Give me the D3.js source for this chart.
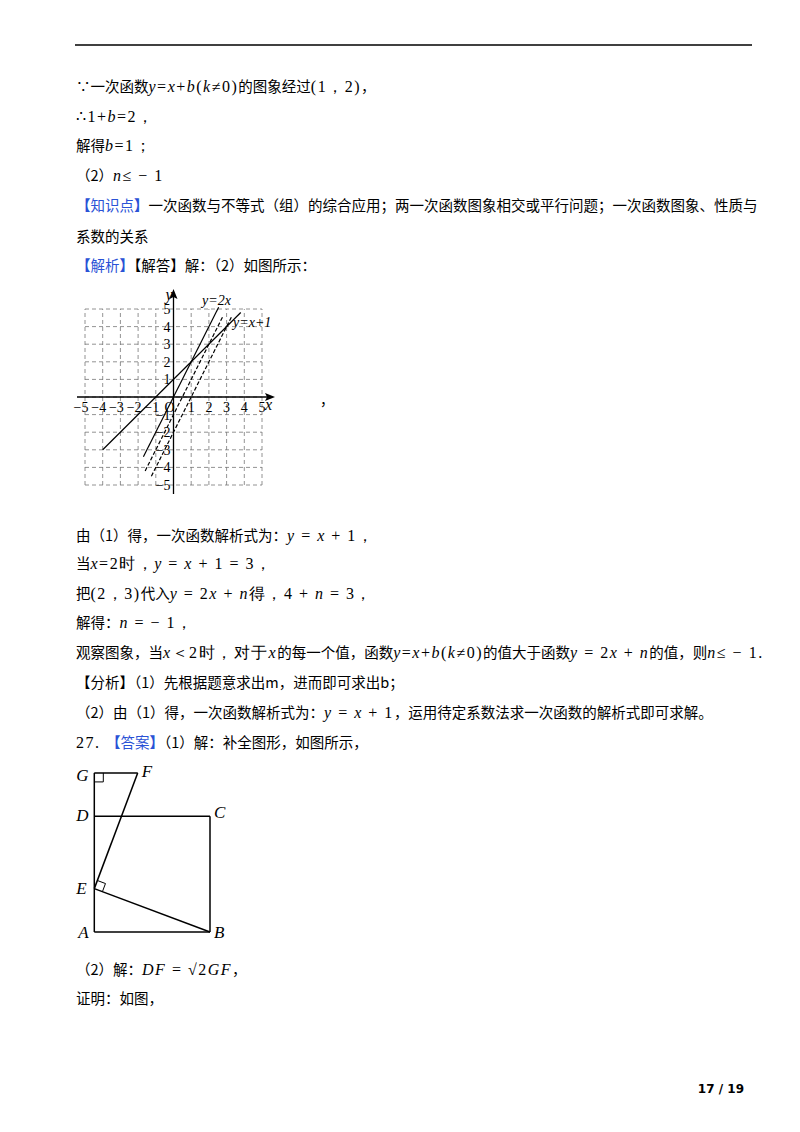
<!DOCTYPE html>
<html><head><meta charset="utf-8">
<script src="https://cdn.jsdelivr.net/npm/d3@7"></script>
<style>body{margin:0;background:#fff}</style>
</head><body>
<svg id="svg" width="800" height="1132"></svg>
<script>
var svg = d3.select("#svg");
var CN = "'Noto Sans CJK SC', sans-serif", SER = "'Liberation Serif', serif";

// page text: each line is list of [text, style] ; style: n normal, i italic math, m math upright, b blue, bb bold blue bracket
var lines = [
  {y:92, s:[["∵一次函数","n"],["y","i"],["=","m"],["x","i"],["+","m"],["b","i"],["(","m"],["k","i"],["≠0","m"],[")","m"],["的图象经过","n"],["(1，2)","m"],["，","n"]]},
  {y:122, s:[["∴1+","m"],["b","i"],["=2，","m"]]},
  {y:151, s:[["解得","n"],["b","i"],["=1；","m"]]},
  {y:181, s:[["（2）","n"],["n","i"],["≤ − 1","m"]]},
  {y:211, s:[["【","bb"],["知识点","b"],["】","bb"],["一次函数与不等式（组）的综合应用；两一次函数图象相交或平行问题；一次函数图象、性质与","n"]]},
  {y:242, s:[["系数的关系","n"]]},
  {y:271, s:[["【","bb"],["解析","b"],["】","bb"],["【解答】解：（2）如图所示：","n"]]},
  {y:541, s:[["由（1）得，一次函数解析式为：","n"],["y","i"],[" = ","m"],["x","i"],[" + 1，","m"]]},
  {y:569, s:[["当","n"],["x","i"],["=2时，","m"],["y","i"],[" = ","m"],["x","i"],[" + 1 = 3，","m"]]},
  {y:599, s:[["把","n"],["(2，3)","m"],["代入","n"],["y","i"],[" = 2","m"],["x","i"],[" + ","m"],["n","i"],["得，4 + ","m"],["n","i"],[" = 3，","m"]]},
  {y:628, s:[["解得：","n"],["n","i"],[" = − 1，","m"]]},
  {y:658, s:[["观察图象，当","n"],["x","i"],["＜2时，对于","m"],["x","i"],["的每一个值，函数","n"],["y","i"],["=","m"],["x","i"],["+","m"],["b","i"],["(","m"],["k","i"],["≠0)","m"],["的值大于函数","n"],["y","i"],[" = 2","m"],["x","i"],[" + ","m"],["n","i"],["的值，则","n"],["n","i"],["≤ − 1.","m"]]},
  {y:688, s:[["【分析】（1）先根据题意求出m，进而即可求出b；","n"]]},
  {y:718, s:[["（2）由（1）得，一次函数解析式为：","n"],["y","i"],[" = ","m"],["x","i"],[" + 1","m"],["，运用待定系数法求一次函数的解析式即可求解。","n"]]},
  {y:748, s:[["27. ","m"],["【","bb"],["答案","b"],["】","bb"],["（1）解：补全图形，如图所示，","n"]]},
  {y:975, s:[["（2）解：","n"],["DF","i"],[" = √2","m"],["GF","i"],["，","n"]]},
  {y:1004, s:[["证明：如图，","n"]]}
];

svg.append("line").attr("x1",75).attr("x2",752).attr("y1",45).attr("y2",45).attr("stroke","#000").attr("stroke-width",1.3);

lines.forEach(function(l){
  var t = svg.append("text").attr("x",76).attr("y",l.y).attr("font-size","14.5px").attr("fill","#000");
  l.s.forEach(function(seg){
    var ts = t.append("tspan").text(seg[0]);
    if (seg[1]=="n") ts.attr("font-family",CN);
    if (seg[1]=="i") ts.attr("font-family",SER).attr("font-style","italic").attr("font-size","16px").attr("letter-spacing","1.5px");
    if (seg[1]=="m") ts.attr("font-family",SER).attr("font-size","16px").attr("letter-spacing","1.5px");
    if (seg[1]=="b") ts.attr("font-family",CN).attr("fill","#2a52d6");
    if (seg[1]=="bb") ts.attr("font-family",CN).attr("fill","#2a52d6").attr("font-weight","bold");
  });
});
svg.append("text").attr("x",320).attr("y",405).attr("font-family",CN).attr("font-size","14px").text("，");
svg.append("text").attr("x",744).attr("y",1093).attr("text-anchor","end").attr("font-family","'DejaVu Sans'").attr("font-weight","bold").attr("font-size","12px").text("17 / 19");

// ---- coordinate graph ----
var ticks = [-5,-4,-3,-2,-1,1,2,3,4,5];
var solidLines = [
  {label:"y=x+1", k:1, b:1, x0:-4, x1:3.8},
  {label:"y=2x", k:2, b:0, x0:-1.7, x1:2.55}
];
var dashLines = [
  {k:2, b:-1, x0:-1.6, x1:2.8},
  {k:2, b:-2, x0:-1.25, x1:3.3}
];
var x = d3.scaleLinear().domain([-5,5]).range([85,262]);
var y = d3.scaleLinear().domain([-5,5]).range([485,309]);
var g = svg.append("g").attr("font-family",SER).attr("font-size","14px");
var grid = d3.range(-5,6);
g.selectAll("line.gv").data(grid).enter().append("line")
  .attr("x1",function(d){return x(d);}).attr("x2",function(d){return x(d);})
  .attr("y1",y(-5)).attr("y2",y(5)).attr("stroke","#777").attr("stroke-dasharray","4,3").attr("stroke-width",0.8);
g.selectAll("line.gh").data(grid).enter().append("line")
  .attr("y1",function(d){return y(d);}).attr("y2",function(d){return y(d);})
  .attr("x1",x(-5)).attr("x2",x(5)).attr("stroke","#777").attr("stroke-dasharray","4,3").attr("stroke-width",0.8);
// axes
g.append("line").attr("x1",77).attr("x2",270).attr("y1",y(0)).attr("y2",y(0)).attr("stroke","#000").attr("stroke-width",1.3);
g.append("line").attr("x1",x(0)).attr("x2",x(0)).attr("y1",494).attr("y2",294).attr("stroke","#000").attr("stroke-width",1.3);
g.append("path").attr("d","M"+275+","+y(0)+"l-10,-4l2,4l-2,4z");
g.append("path").attr("d","M"+x(0)+",289l-4,10l4,-2l4,2z");
g.append("text").attr("x",265).attr("y",y(0)+13).attr("font-style","italic").attr("font-size","16px").text("x");
g.append("text").attr("x",x(0)-8).attr("y",300).attr("font-style","italic").attr("font-size","16px").text("y");
g.selectAll("text.xt").data(ticks).enter().append("text")
  .attr("x",function(d){return x(d)-(d<0?4:0);}).attr("y",y(0)+15).attr("text-anchor","middle")
  .text(function(d){return d<0?"−"+(-d):d;});
g.append("text").attr("x",x(0)-9).attr("y",y(0)+15).text("O");
g.selectAll("text.yt").data(ticks).enter().append("text")
  .attr("x",x(0)-3).attr("y",function(d){return y(d)+5;}).attr("text-anchor","end")
  .text(function(d){return d<0?"−"+(-d):d;});
var line = d3.line().x(function(p){return x(p[0]);}).y(function(p){return y(p[1]);});
g.selectAll("path.sl").data(solidLines).enter().append("path")
  .attr("d",function(d){return line([[d.x0,d.k*d.x0+d.b],[d.x1,d.k*d.x1+d.b]]);})
  .attr("stroke","#000").attr("stroke-width",1.2).attr("fill","none");
g.selectAll("path.dl").data(dashLines).enter().append("path")
  .attr("d",function(d){return line([[d.x0,d.k*d.x0+d.b],[d.x1,d.k*d.x1+d.b]]);})
  .attr("stroke","#000").attr("stroke-width",1.2).attr("stroke-dasharray","4,2").attr("fill","none");
g.append("text").attr("x",202).attr("y",305).attr("font-style","italic").text("y=2x");
g.append("text").attr("x",233).attr("y",327).attr("font-style","italic").text("y=x+1");

// ---- geometry figure ----
var pts = {A:[0,0],B:[4,0],C:[4,4],D:[0,4],E:[0,1.5],F:[1.5,5.5],G:[0,5.5]};
var segs = [["A","B"],["B","C"],["C","D"],["A","G"],["G","F"],["F","E"],["E","B"]];
var labOff = {A:[-16,6],B:[4,6],C:[4,2],D:[-18,5],E:[-18,5],F:[4,4],G:[-18,8]};
var gx = d3.scaleLinear().domain([0,4]).range([94.3,210]);
var gy = d3.scaleLinear().domain([0,4]).range([932,816.3]);
var f = svg.append("g");
f.selectAll("line").data(segs).enter().append("line")
  .attr("x1",function(d){return gx(pts[d[0]][0]);}).attr("y1",function(d){return gy(pts[d[0]][1]);})
  .attr("x2",function(d){return gx(pts[d[1]][0]);}).attr("y2",function(d){return gy(pts[d[1]][1]);})
  .attr("stroke","#000").attr("stroke-width",1.5);
f.append("path").attr("d","M"+gx(0)+","+(gy(5.5)+9)+"h9v-9").attr("fill","none").attr("stroke","#000");
// right-angle mark at E
var u1=[1.5,4], u2=[4,-1.5], n1=Math.hypot(1.5,4), n2=Math.hypot(4,-1.5), s=0.3;
var pa=[u1[0]/n1*s,1.5+u1[1]/n1*s], pb=[u2[0]/n2*s,1.5+u2[1]/n2*s], pc=[pa[0]+pb[0],pa[1]+pb[1]-1.5];
f.append("path").attr("d",line.x(function(p){return gx(p[0]);}).y(function(p){return gy(p[1]);})([pa,pc,pb]))
  .attr("fill","none").attr("stroke","#000");
f.selectAll("text").data(Object.keys(pts)).enter().append("text")
  .attr("x",function(d){return gx(pts[d][0])+labOff[d][0];}).attr("y",function(d){return gy(pts[d][1])+labOff[d][1];})
  .attr("font-family",SER).attr("font-style","italic").attr("font-size","17px").text(function(d){return d;});
</script>
</body></html>
